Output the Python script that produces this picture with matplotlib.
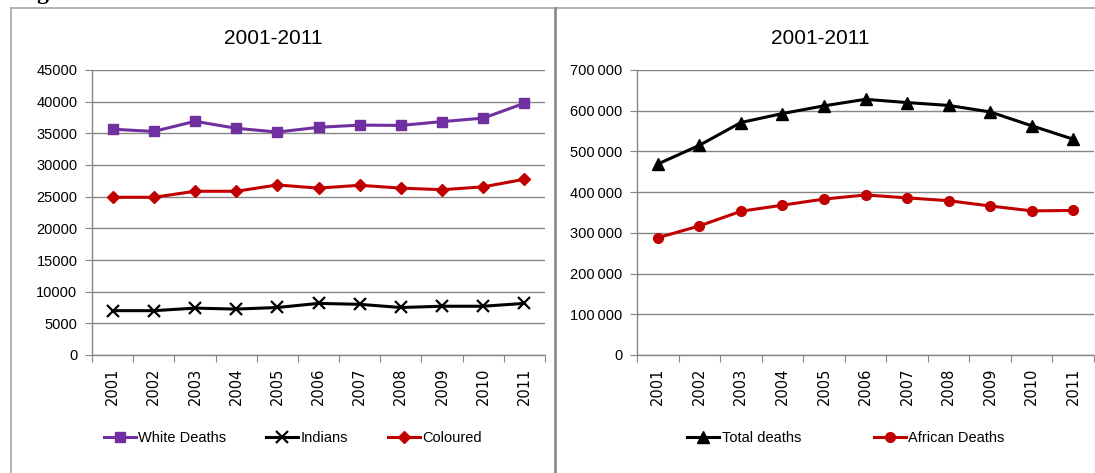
import matplotlib
matplotlib.use("Agg")
import matplotlib.pyplot as plt
from matplotlib.lines import Line2D
from matplotlib.ticker import FuncFormatter, MultipleLocator

plt.rcParams["font.family"] = ["Liberation Sans", "DejaVu Sans"]

years = ["2001", "2002", "2003", "2004", "2005", "2006", "2007", "2008", "2009", "2010", "2011"]

# Deaths by population group, 2001-2011
white_deaths = [35650, 35300, 36900, 35800, 35200, 35950, 36300, 36250, 36850, 37400, 39750]
indians = [7000, 7000, 7400, 7250, 7500, 8150, 8000, 7500, 7700, 7700, 8150]
coloured = [24900, 24900, 25850, 25850, 26850, 26350, 26800, 26350, 26100, 26550, 27750]

total_deaths = [469000, 515000, 571000, 593000, 612000, 628000, 620000, 613000, 597000, 563000, 530000]
african_deaths = [288000, 317000, 353000, 368000, 383000, 393000, 386000, 379000, 366000, 354000, 355000]

PURPLE = "#7030A0"
RED = "#C00000"
GRID = "#868686"

W, H = 1095, 473
fig = plt.figure(figsize=(W / 100, H / 100), dpi=100)


def px_rect(x0, y0, x1, y1):
    return [x0 / W, 1 - y1 / H, (x1 - x0) / W, (y1 - y0) / H]


def style_axes(ax, ymax, step, fmt):
    ax.set_xlim(-0.5, len(years) - 0.5)
    ax.set_ylim(0, ymax)
    ax.yaxis.set_major_locator(MultipleLocator(step))
    ax.yaxis.set_major_formatter(FuncFormatter(fmt))
    # category ticks sit between the years, labels in the middle
    ax.set_xticks([i - 0.5 for i in range(len(years) + 1)])
    ax.set_xticklabels([])
    ax.set_xticks(range(len(years)), minor=True)
    ax.set_xticklabels(years, minor=True, rotation=90, fontsize=10.5, family="DejaVu Sans")
    ax.tick_params(axis="x", which="minor", length=0, pad=9)
    ax.tick_params(axis="x", which="major", length=5, color=GRID, direction="out")
    ax.tick_params(axis="y", length=5, color=GRID, labelsize=10.5, pad=5.5)
    for s in ("top", "right"):
        ax.spines[s].set_visible(False)
    for s in ("left", "bottom"):
        ax.spines[s].set_color(GRID)
        ax.spines[s].set_linewidth(1.0)
    ax.grid(axis="y", color=GRID, linewidth=1.0)
    ax.set_axisbelow(True)


def plain(v, _):
    return f"{int(v)}"


def spaced(v, _):
    return f"{int(v):,}".replace(",", "\u2009")


x = range(len(years))

# left panel: white / indian / coloured
ax1 = fig.add_axes(px_rect(92, 70, 545, 355))
style_axes(ax1, 45000, 5000, plain)
ax1.plot(x, white_deaths, color=PURPLE, lw=2.2, marker="s", ms=7, label="White Deaths")
ax1.plot(x, indians, color="black", lw=2.2, marker="x", ms=8, mew=1.6, label="Indians")
ax1.plot(x, coloured, color=RED, lw=2.2, marker="D", ms=6.5, label="Coloured")
ax1.legend(loc="center", bbox_to_anchor=(0.443, -0.29), ncol=3, frameon=False,
           fontsize=10.5, handlelength=2.2, handletextpad=0.15, columnspacing=2.75)

# right panel: total / african
ax2 = fig.add_axes(px_rect(637, 70, 1094, 355))
style_axes(ax2, 700000, 100000, spaced)
ax2.plot(x, total_deaths, color="black", lw=2.2, marker="^", ms=8, label="Total deaths")
ax2.plot(x, african_deaths, color=RED, lw=2.2, marker="o", ms=7, label="African Deaths")
ax2.legend(loc="center", bbox_to_anchor=(0.457, -0.29), ncol=2, frameon=False,
           fontsize=10.5, handlelength=2.2, handletextpad=0.15, columnspacing=5.0)

fig.text(273 / W, 1 - 38 / H, "2001-2011", ha="center", va="center", fontsize=15)
fig.text(820 / W, 1 - 38 / H, "2001-2011", ha="center", va="center", fontsize=15)

# chart frames
frame = dict(transform=fig.transFigure, color="#A6A6A6", lw=1.2)
fig.add_artist(Line2D([11 / W, 11 / W], [0, 1 - 8 / H], **frame))
fig.add_artist(Line2D([11 / W, 1], [1 - 8 / H, 1 - 8 / H], **frame))
fig.add_artist(Line2D([555 / W, 555 / W], [0, 1 - 8 / H], transform=fig.transFigure,
                      color="#8C8C8C", lw=2.0))

# tail of the heading above the charts
fig.text(42 / W, 1 + 1 / H, "g", ha="center", va="baseline", fontsize=17,
         fontweight="bold", family="Liberation Serif")

fig.savefig("out.png", dpi=100)
